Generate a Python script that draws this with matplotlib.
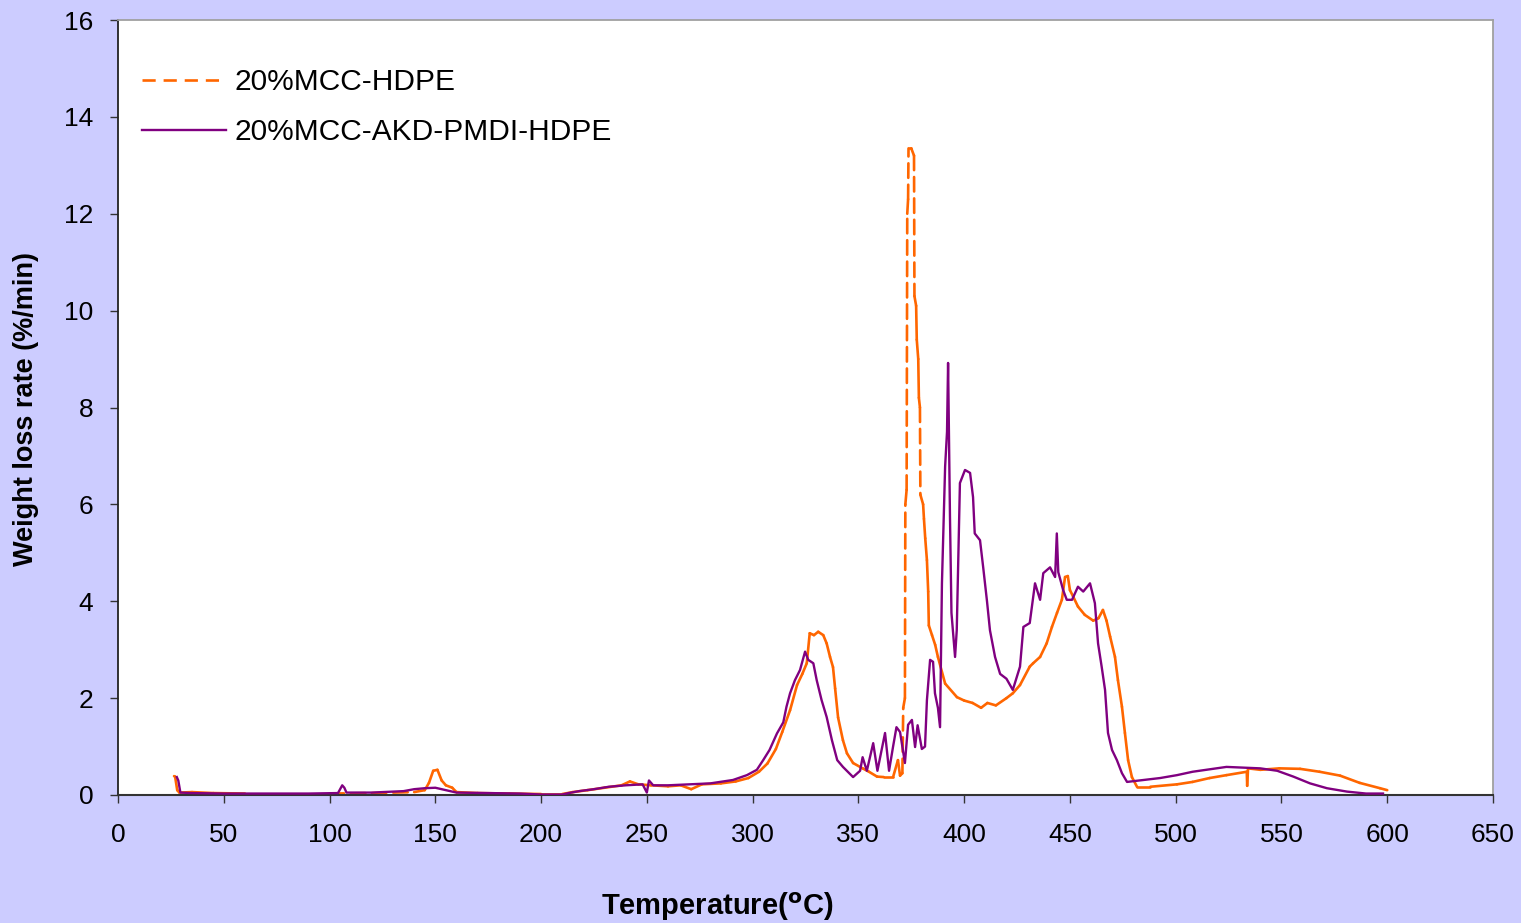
import matplotlib
matplotlib.use('Agg')
import matplotlib.pyplot as plt
from matplotlib.collections import LineCollection
from matplotlib.lines import Line2D
import numpy as np

plt.rcParams['font.family'] = ['Liberation Sans', 'DejaVu Sans']

# 20%MCC-HDPE (orange, dashed)
mcc_T = [26.5, 27, 28, 29, 35, 45, 60, 80, 100, 120, 140, 145, 147, 149, 151, 153, 155, 158, 160,
         170, 185, 200, 210, 215, 222, 230, 238, 242, 246, 252, 260, 266, 271, 276, 285, 292, 298,
         303, 307, 311, 314, 317.7, 321, 323.5, 325.6, 327, 329, 331, 333.4, 335, 336.6, 338, 339,
         340.4, 342.7, 344.6, 347.5, 352, 355, 358.8, 362, 366.4, 368.7, 369.7, 370.8, 371.2, 372,
         372.2, 372.8, 373.1, 373.5, 373.7, 375, 376.3, 376.5, 377.3, 377.6, 378.3, 378.6, 379.1,
         379.3, 380.6, 381.0, 381.6, 382.4, 383, 383.3, 384.8, 386.3, 387.6, 391, 396.6, 400, 404,
         408, 411, 415, 420, 423, 426.4, 431, 432.6, 435.9, 439, 441.5, 443.9, 446.2, 447.7, 449,
         450, 451.5, 453.8, 457, 461, 463.5, 465.6, 467.3, 469, 471.3, 472.7, 474.6, 476, 477.5,
         479.3, 481.7, 488, 500.6, 508, 516, 524, 533.6, 533.8, 534.2, 540, 549, 558.8, 568, 577.7,
         587, 596.6, 600]
mcc_rate = [0.39, 0.38, 0.1, 0.05, 0.06, 0.04, 0.03, 0.03, 0.03, 0.04, 0.06, 0.1, 0.25, 0.5, 0.52,
            0.3, 0.2, 0.15, 0.06, 0.04, 0.03, 0.02, 0.02, 0.06, 0.1, 0.15, 0.2, 0.28, 0.22, 0.2,
            0.18, 0.2, 0.12, 0.22, 0.24, 0.28, 0.35, 0.48, 0.65, 0.95, 1.3, 1.75, 2.27, 2.5, 2.72,
            3.34, 3.3, 3.37, 3.3, 3.13, 2.85, 2.64, 2.2, 1.6, 1.13, 0.86, 0.66, 0.55, 0.48, 0.38,
            0.37, 0.37, 0.72, 0.4, 0.45, 1.8, 2.0, 6.0, 6.3, 12.0, 12.3, 13.35, 13.35, 13.2, 10.3,
            10.1, 9.4, 9.0, 8.2, 8.0, 6.2, 6.0, 5.7, 5.3, 4.85, 4.2, 3.5, 3.3, 3.1, 2.85, 2.3, 2.02,
            1.95, 1.9, 1.8, 1.9, 1.85, 2.0, 2.1, 2.27, 2.65, 2.72, 2.85, 3.13, 3.47, 3.76, 4.03, 4.5,
            4.52, 4.23, 4.1, 3.89, 3.72, 3.6, 3.65, 3.82, 3.6, 3.27, 2.85, 2.37, 1.82, 1.28, 0.72,
            0.37, 0.17, 0.17, 0.22, 0.27, 0.35, 0.41, 0.48, 0.19, 0.55, 0.52, 0.55, 0.54, 0.48, 0.4,
            0.25, 0.14, 0.1]

# 20%MCC-AKD-PMDI-HDPE (purple, solid)
akd_T = [27.8, 28.5, 29.5, 35, 50, 70, 90, 104, 106, 107, 108, 120, 135, 140, 145, 150, 155, 160,
         175, 190, 200, 210, 213, 218, 225, 232, 240, 248, 250, 251, 253, 260, 270, 280, 290.7,
         297.3, 302, 305, 308, 311.5, 314.5, 316, 317.7, 320, 322.4, 324.8, 326.3, 328.7, 330.3,
         332.6, 335, 337.5, 340, 342.7, 347.5, 350.8, 352, 354, 357, 359, 362.6, 364.5, 366.4, 368,
         369.7, 372, 373.5, 375.3, 376.8, 378, 380, 381.5, 382.4, 383.9, 385.3, 386.2, 387.6,
         388.6, 389.5, 391, 391.9, 392.4, 393.3, 394, 395.7, 396.5, 398, 400.4, 402.8, 404.2, 405,
         407.5, 409, 410.8, 412.2, 414.6, 417, 420, 423, 426.4, 428, 431, 433.5, 435.9, 437.4,
         440.6, 443, 443.8, 444.5, 446.8, 448.5, 451, 453.8, 456.3, 459.5, 461.8, 463.3, 465,
         466.6, 468, 469.9, 472.2, 474.6, 477, 483, 492.6, 500.6, 508, 524, 540, 548, 555.6, 563.5,
         571.5, 581, 590, 598]
akd_rate = [0.37, 0.3, 0.05, 0.04, 0.03, 0.03, 0.03, 0.04, 0.2, 0.15, 0.05, 0.05, 0.08, 0.12, 0.14,
            0.15, 0.1, 0.05, 0.04, 0.03, 0.01, 0.01, 0.04, 0.08, 0.12, 0.17, 0.2, 0.22, 0.05, 0.3,
            0.2, 0.2, 0.22, 0.24, 0.31, 0.41, 0.52, 0.72, 0.93, 1.27, 1.5, 1.82, 2.1, 2.37, 2.58,
            2.96, 2.79, 2.72, 2.37, 1.96, 1.61, 1.13, 0.72, 0.58, 0.37, 0.5, 0.78, 0.5, 1.07, 0.5,
            1.28, 0.5, 1.0, 1.4, 1.3, 0.66, 1.45, 1.55, 0.99, 1.44, 0.95, 1.0, 1.96, 2.79, 2.75,
            2.1, 1.8, 1.4, 4.37, 6.78, 7.5, 8.92, 5.74, 3.76, 2.85, 3.4, 6.44, 6.71, 6.65, 6.15,
            5.4, 5.26, 4.7, 4.0, 3.4, 2.85, 2.5, 2.4, 2.17, 2.65, 3.47, 3.55, 4.37, 4.03, 4.58, 4.7,
            4.5, 5.4, 4.6, 4.23, 4.03, 4.03, 4.3, 4.2, 4.37, 3.96, 3.13, 2.65, 2.17, 1.28, 0.93,
            0.72, 0.45, 0.27, 0.3, 0.35, 0.41, 0.48, 0.58, 0.55, 0.5, 0.38, 0.24, 0.14, 0.07, 0.03,
            0.03]

x_ticks = list(range(0, 651, 50))
y_ticks = list(range(0, 17, 2))

orange = '#FF6600'
purple = '#800080'

fig = plt.figure(figsize=(15.21, 9.23), dpi=100)
fig.patch.set_facecolor('#CCCCFF')
ax = fig.add_axes([118 / 1521, 128 / 923, 1375 / 1521, 775 / 923])
ax.set_facecolor('white')
ax.set_xlim(0, 650)
ax.set_ylim(0, 16)

# excel draws the dash pattern fresh on every segment, so only long jumps look dashed
pts = np.column_stack([mcc_T, mcc_rate])
segs = np.stack([pts[:-1], pts[1:]], axis=1)
disp = ax.transData.transform(pts)
seg_len = np.hypot(*np.diff(disp, axis=0).T)
styles = [(0, (5.5, 2.6)) if L > 40 else 'solid' for L in seg_len]
lc = LineCollection(segs, colors=orange, linewidths=1.9, linestyles=styles,
                    capstyle='round', zorder=2)
ax.add_collection(lc)
ax.plot(akd_T, akd_rate, color=purple, lw=1.7, zorder=3)

ax.set_xticks(x_ticks)
ax.set_yticks(y_ticks)
ax.tick_params(axis='both', direction='out', length=5.8, width=1, color='#333333',
               labelsize=19)
ax.tick_params(axis='x', pad=14)
ax.tick_params(axis='y', pad=12)

for s in ['top', 'right']:
    ax.spines[s].set_color('#A0A0A0')
    ax.spines[s].set_linewidth(1.3)
ax.spines['left'].set_color('#222222')
ax.spines['bottom'].set_color('#333333')
ax.spines['left'].set_linewidth(1.3)
ax.spines['bottom'].set_linewidth(1.5)

fig.text(26 / 1521, 1 - 409 / 923, 'Weight loss rate (%/min)', fontsize=19.5,
         fontweight='bold', rotation=90, ha='center', va='center')
fig.text(717 / 1521, 1 - 907 / 923, r'Temperature($\mathbf{^{o}}$C)', fontsize=21,
         fontweight='bold', ha='center', va='center')

handles = [Line2D([], [], color=orange, lw=1.9, dashes=(5.0, 3.0)),
           Line2D([], [], color=purple, lw=1.7)]
ax.legend(handles, ['20%MCC-HDPE', '20%MCC-AKD-PMDI-HDPE'], loc='upper left',
          bbox_to_anchor=(0.0175, 0.938), frameon=False, fontsize=21.5, handlelength=2.8,
          handletextpad=0.3, labelspacing=0.75, borderpad=0, borderaxespad=0)

fig.savefig('out.png', dpi=100, facecolor=fig.get_facecolor())
